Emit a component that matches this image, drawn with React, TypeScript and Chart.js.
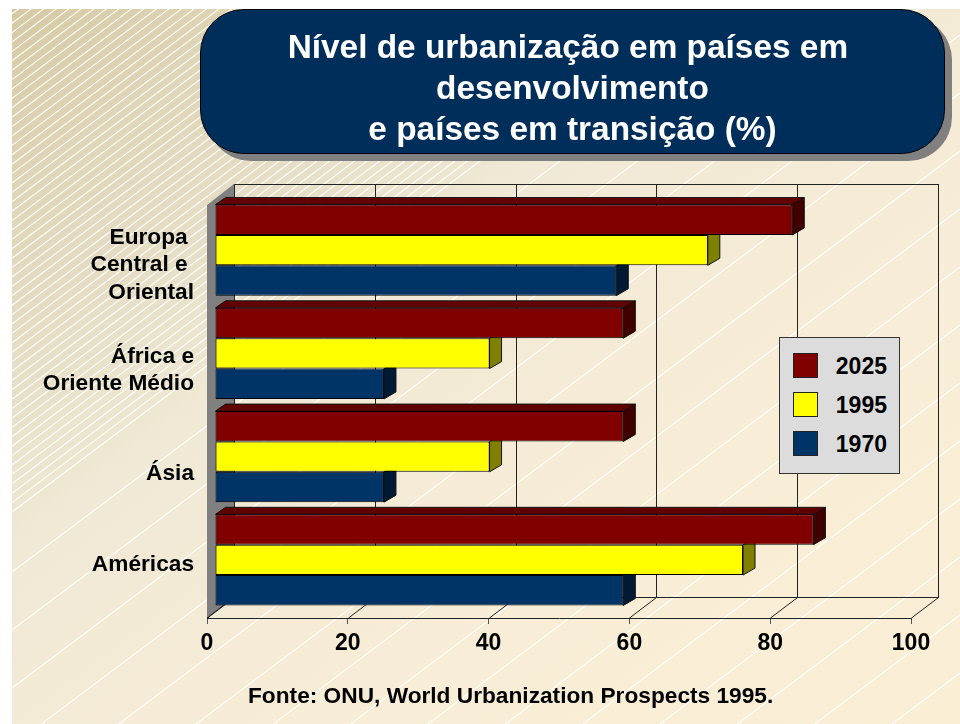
import React, { useEffect, useRef } from "react";
import { Chart, registerables } from "chart.js";

Chart.register(...registerables);

const categories = [["Europa ", "Central e ", "Oriental"], ["África e", "Oriente Médio"], ["Ásia"], ["Américas"]];
const seriesNames = ["2025", "1995", "1970"];
const values2025 = [82, 58, 58, 85];
const values1995 = [70, 39, 39, 75];
const values1970 = [57, 24, 24, 58];
const xTickStep = 20;
const titleLines = ["Nível de urbanização em países em ", "desenvolvimento", "e países em transição (%)"];
const sourceNote = "Fonte: ONU, World Urbanization Prospects 1995.";

const frontColors = ["#800000", "#ffff00", "#003366"];
const sideColors = ["#400000", "#808000", "#001a33"];
const topColor = "#600000";
const FONT = "'Liberation Sans', Arial, sans-serif";
const labelNudge = [8.4, 10.2, 11, -1.7];

const WALL_DX = 27;
const WALL_DY = 21;
const BAR_DX = 8;
const BAR_DY = 6.5;
const SIDE_DX = 12;
const SIDE_DY = 7;

function poly(ctx: CanvasRenderingContext2D, pts: number[][], fill: string, stroke: string | null) {
  ctx.beginPath();
  pts.forEach((p, i) => (i ? ctx.lineTo(p[0], p[1]) : ctx.moveTo(p[0], p[1])));
  ctx.closePath();
  ctx.fillStyle = fill;
  ctx.fill();
  if (stroke) {
    ctx.strokeStyle = stroke;
    ctx.lineWidth = 1;
    ctx.stroke();
  }
}

const backgroundPlugin = {
  id: "slideBackground",
  beforeDraw(chart: any) {
    const ctx = chart.ctx as CanvasRenderingContext2D;
    ctx.save();
    ctx.beginPath();
    ctx.rect(12, 9, 948, 715);
    ctx.clip();
    const U = 1160;
    const g = ctx.createLinearGradient(0, 0, 0.6 * U, 0.8 * U);
    const stops: [number, string][] = [
      [0, "#d5c8a2"],
      [200, "#dfd5b7"],
      [390, "#e6dfc7"],
      [560, "#efe9d5"],
      [700, "#f3ead6"],
      [1000, "#f8edd6"],
      [1450, "#faeed5"],
    ];
    stops.forEach(([c, col]) => g.addColorStop(c / 1450, col));
    ctx.fillStyle = g;
    ctx.fillRect(0, 0, 960, 724);
    ctx.strokeStyle = "rgba(255,255,255,0.95)";
    ctx.lineWidth = 1.1;
    const stripe = (c: number) => {
      ctx.beginPath();
      ctx.moveTo(0, c);
      ctx.lineTo(960, c - 720);
      ctx.stroke();
    };
    for (let c = 521; c > 10; c -= 9.4) stripe(c);
    for (let c = 581; c < 1700; c += 58) stripe(c);
    ctx.restore();
    // move the category labels to where the slide has them
    const items = chart.scales.y.getLabelItems();
    if (items.length && !items[0].__nudged) {
      items.forEach((it: any, i: number) => {
        it.options.translation[1] += labelNudge[i] || 0;
      });
      items[0].__nudged = true;
    }
  },
};

const depthPlugin = {
  id: "depth3d",
  beforeDatasetsDraw(chart: any) {
    const ctx = chart.ctx as CanvasRenderingContext2D;
    const { left, right, top, bottom } = chart.chartArea;
    const x = chart.scales.x;
    ctx.save();
    const wallTop = Math.round(top - WALL_DY) + 0.5;
    const wallBottom = Math.round(bottom - WALL_DY) + 0.5;
    // back wall outline and floor
    ctx.strokeStyle = "#222";
    ctx.lineWidth = 1;
    ctx.strokeRect(left + WALL_DX + 0.5, wallTop, right - left, wallBottom - wallTop);
    x.ticks.forEach((t: any) => {
      const px = Math.round(x.getPixelForValue(t.value)) + 0.5;
      ctx.beginPath();
      ctx.moveTo(px + WALL_DX, wallTop);
      ctx.lineTo(px + WALL_DX, wallBottom);
      ctx.moveTo(px + WALL_DX, wallBottom);
      ctx.lineTo(px, bottom);
      ctx.stroke();
    });
    // left wall
    poly(
      ctx,
      [
        [left, top],
        [left + WALL_DX, top - WALL_DY],
        [left + WALL_DX, bottom - WALL_DY],
        [left, bottom],
      ],
      "#808080",
      null
    );
    ctx.strokeStyle = "#222";
    ctx.beginPath();
    ctx.moveTo(left, bottom);
    ctx.lineTo(left + WALL_DX, bottom - WALL_DY);
    ctx.stroke();
    // bars sit part way into the depth; their sides go under the fronts
    ctx.translate(BAR_DX, -BAR_DY);
    chart.data.datasets.forEach((_: any, d: number) => {
      chart.getDatasetMeta(d).data.forEach((bar: any) => {
        const yTop = bar.y - bar.height / 2;
        const yBot = bar.y + bar.height / 2;
        poly(
          ctx,
          [
            [bar.x, yTop],
            [bar.x + SIDE_DX, yTop - SIDE_DY],
            [bar.x + SIDE_DX, yBot - SIDE_DY],
            [bar.x, yBot],
          ],
          sideColors[d],
          "#111"
        );
        if (d === 0) {
          poly(
            ctx,
            [
              [bar.base, yTop],
              [bar.base + 10, yTop - SIDE_DY],
              [bar.x + SIDE_DX, yTop - SIDE_DY],
              [bar.x, yTop],
            ],
            topColor,
            "#111"
          );
        }
      });
    });
  },
  afterDatasetsDraw(chart: any) {
    chart.ctx.restore();
  },
};

export default function App() {
  const ref = useRef<HTMLCanvasElement>(null);
  useEffect(() => {
    const series = [values2025, values1995, values1970];
    const chart = new Chart(ref.current as HTMLCanvasElement, {
      type: "bar",
      data: {
        labels: categories as any,
        datasets: series.map((data, i) => ({
          label: seriesNames[i],
          data,
          backgroundColor: frontColors[i],
          borderColor: "#000",
          borderWidth: 1,
          borderSkipped: false,
          barPercentage: 1,
          categoryPercentage: 0.882,
          clip: false as any,
        })),
      },
      options: {
        indexAxis: "y",
        responsive: false,
        animation: false,
        layout: { padding: { top: 205, left: 0, right: 49, bottom: 0 } },
        plugins: { legend: { display: false }, tooltip: { enabled: false }, title: { display: false } },
        scales: {
          x: {
            min: 0,
            max: 100,
            afterFit: (s: any) => {
              s.height = 106;
            },
            grid: { drawOnChartArea: false, drawTicks: true, tickLength: 6, color: "#555" },
            border: { display: true, color: "#222", width: 1 },
            ticks: {
              stepSize: xTickStep,
              maxRotation: 0,
              padding: 6,
              color: "#000",
              font: { family: FONT, size: 23, weight: "bold" },
            },
          },
          y: {
            afterFit: (s: any) => {
              s.width = 207;
            },
            grid: { display: false },
            border: { display: false },
            ticks: {
              autoSkip: false,
              padding: 5,
              color: "#000",
              font: { family: FONT, size: 22.7, weight: "bold", lineHeight: 1.2 },
            },
          },
        },
      } as any,
      plugins: [backgroundPlugin, depthPlugin] as any,
    });
    return () => chart.destroy();
  }, []);

  return (
    <div style={{ position: "absolute", left: 0, top: 0, width: 960, height: 724, overflow: "hidden", background: "#fff", fontFamily: FONT }}>
      <canvas ref={ref} width={960} height={724} style={{ position: "absolute", left: 0, top: 0, display: "block" }} />
      <div
        style={{
          position: "absolute",
          left: 200,
          top: 9,
          width: 743,
          height: 143,
          boxSizing: "content-box",
          background: "#002e5a",
          border: "1px solid #000",
          borderRadius: 44,
          boxShadow: "7px 7px 0 #808080",
          color: "#fff",
          fontWeight: "bold",
          fontSize: 33.4,
          lineHeight: "41px",
          textAlign: "center",
          whiteSpace: "pre",
        }}
      >
        <div style={{ marginTop: 16 }}>
          {titleLines.map((t) => (
            <div key={t}>{t}</div>
          ))}
        </div>
      </div>
      <div
        style={{
          position: "absolute",
          left: 779,
          top: 337,
          width: 119,
          height: 135,
          background: "#dcdcdc",
          border: "1px solid #333",
          borderBottomWidth: 1.5,
        }}
      >
        {seriesNames.map((name, i) => (
          <div key={name} style={{ position: "absolute", left: 13, top: 15 + i * 39, width: 94, height: 25 }}>
            <div style={{ position: "absolute", left: 0, top: 0, width: 23, height: 23, background: frontColors[i], border: "1px solid #222" }} />
            <div style={{ position: "absolute", right: 0, top: 0, lineHeight: "27px", fontSize: 23, fontWeight: "bold", color: "#000" }}>{name}</div>
          </div>
        ))}
      </div>
      <div
        style={{
          position: "absolute",
          left: 248,
          top: 682,
          fontSize: 22.7,
          lineHeight: "26px",
          fontWeight: "bold",
          color: "#000",
          whiteSpace: "nowrap",
        }}
      >
        {sourceNote}
      </div>
    </div>
  );
}
